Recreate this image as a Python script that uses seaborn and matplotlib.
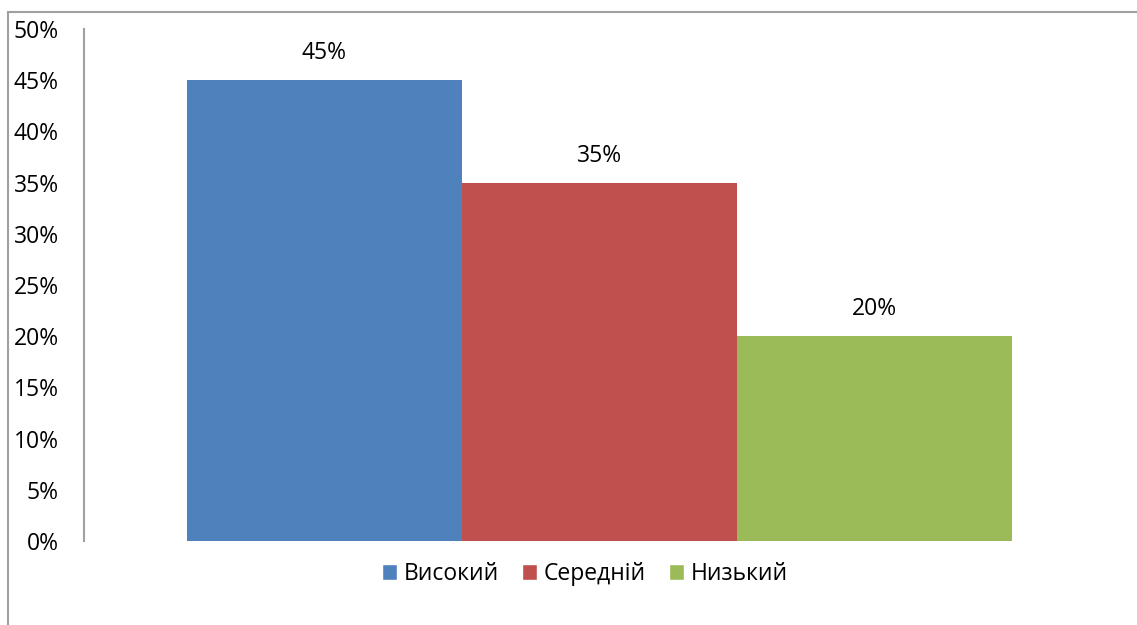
import matplotlib
matplotlib.use("Agg")
import matplotlib.pyplot as plt
import matplotlib.patches as mpatches
from matplotlib.ticker import FuncFormatter
import seaborn as sns
import pandas as pd

levels = ["Високий", "Середній", "Низький"]
shares = [45, 35, 20]
colors = ["#4F81BD", "#C0504D", "#9BBB59"]
y_ticks = [0, 5, 10, 15, 20, 25, 30, 35, 40, 45, 50]

sns.set_theme(style="white")
plt.rcParams["font.family"] = ["Open Sans", "DejaVu Sans"]
plt.rcParams["text.color"] = "black"

df = pd.DataFrame({"level": levels, "share": shares})

W, H = 1137, 625
FS = 16.5
fig = plt.figure(figsize=(W / 100, H / 100), dpi=100)
ax = fig.add_axes([84 / W, 1 - 541 / H, (1115 - 84) / W, (541 - 29) / H])

sns.barplot(data=df, x="level", y="share", hue="level", palette=colors,
            width=1.0, legend=False, ax=ax, saturation=1, linewidth=0)

ax.set_xlim(-0.5 - 103 / 275, 2.5 + 103 / 275)
ax.set_ylim(0, 50)
ax.set_yticks(y_ticks)
ax.yaxis.set_major_formatter(FuncFormatter(lambda v, p: f"{int(v)}%"))
ax.set_xticks([])
ax.set_xlabel("")
ax.set_ylabel("")
ax.tick_params(axis="y", length=0, pad=18, labelsize=FS, labelcolor="black")
for s in ["top", "right", "bottom"]:
    ax.spines[s].set_visible(False)
ax.spines["left"].set_color("#A0A0A0")
ax.spines["left"].set_linewidth(1.5)

for i, v in enumerate(shares):
    ax.annotate(f"{v}%", xy=(i, v), xytext=(0, 27), textcoords="offset pixels",
                ha="center", va="center", fontsize=FS, color="black")

handles = [mpatches.Patch(facecolor=c, label=l) for c, l in zip(colors, levels)]
fig.legend(handles=handles, loc="center", bbox_to_anchor=(585 / W, 1 - 574 / H),
           ncol=3, frameon=False, fontsize=FS, handlelength=0.65, handleheight=0.65,
           handletextpad=0.3, columnspacing=1.0, labelcolor="black")

# outer chart-area frame (left and top edges visible)
frame = mpatches.Rectangle((8 / W, -0.2), 1.2, 1 - 12 / H + 0.2,
                           transform=fig.transFigure, fill=False,
                           edgecolor="#A0A0A0", linewidth=1.5)
fig.patches.append(frame)

fig.savefig("out.png", dpi=100)
